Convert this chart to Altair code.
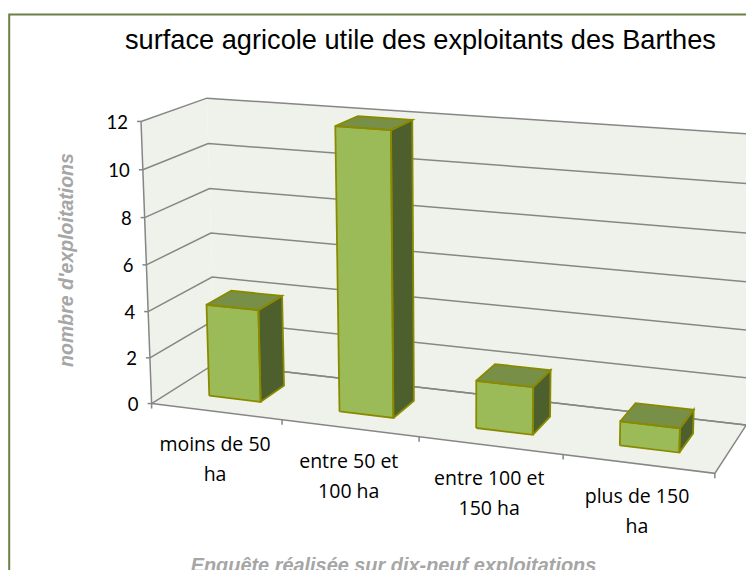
import numpy as np
import pandas as pd
import altair as alt

# ---- chart content ----
categories = [["moins de 50", "ha"], ["entre 50 et", "100 ha"], ["entre 100 et", "150 ha"], ["plus de 150", "ha"]]
values = [4, 12, 2, 1]
y_ticks = [0, 2, 4, 6, 8, 10, 12]
title_text = "surface agricole utile des exploitants des Barthes"
y_title = "nombre d'exploitations"
footer = "Enquête réalisée sur dix-neuf exploitations"

# ---- colours ----
WALL = "#eff2ea"
GRID = "#868686"
FRONT = "#9bbb59"
TOP = "#778f47"
SIDE = "#4e5f2e"
EDGE = "#8a8a00"
FRAME = "#6b8045"
GREY = "#a6a6a6"

# ---- camera: (category fraction, value fraction, depth fraction) -> page pixel ----
camera_model = [(0,0,0),(0,1,0),(0,0,1),(0,1,1),(1,0,1),(1,1,1),(1,0,0),(0,.5,0),(1,.5,1),(0,.5,1),
                (.075,0,.3),(.175,0,.3),(.175,1/3,.3),(.075,1/3,.3),(.175,1/3,.7),(.325,1,.3),(.425,1,.3),(.425,1,.7),
                (.575,1/6,.3),(.675,1/6,.3),(.675,1/6,.7),(.825,1/12,.3),(.925,1/12,.3),(.925,1/12,.7)]
camera_page = [(150.7,403),(141,121.5),(215.5,365),(205.5,98.5),(747,424),(756,133),(714.7,474),(145.7,264.3),(750.7,282.7),(210.7,233.3),
               (210,396),(261,400.7),(259,310),(206.7,304.3),(281.7,295.7),(336,126.7),(392.3,130.7),(413,120),
               (475.7,380),(532.3,387.3),(550.7,369.3),(620,422.7),(680,429),(694,410)]


def fit_camera(model, page):
    rows = []
    for (u, v, d), (x, y) in zip(model, page):
        p = [u, v, d, 1]
        rows.append(p + [0, 0, 0, 0] + [-x * c for c in p])
        rows.append([0, 0, 0, 0] + p + [-y * c for c in p])
    return np.linalg.svd(np.array(rows, float))[2][-1].reshape(3, 4)


CAM = fit_camera(camera_model, camera_page)


def project(u, v, d):
    h = CAM @ np.array([u, v, d, 1.0])
    return float(h[0] / h[2]), float(h[1] / h[2])


def area_rows(pid, fill, pts):
    out = []
    n = len(pts)
    for x in sorted({p[0] for p in pts}):
        ys = []
        for i in range(n):
            (x0, y0), (x1, y1) = pts[i], pts[(i + 1) % n]
            if min(x0, x1) <= x <= max(x0, x1):
                if x0 == x1:
                    ys += [y0, y1]
                else:
                    ys.append(y0 + (y1 - y0) * (x - x0) / (x1 - x0))
        out.append(dict(pid=pid, fill=fill, x=x, y=min(ys), y2=max(ys)))
    return out


def line_rows(pid, pts):
    return [dict(pid=pid, o=i, x=p[0], y=p[1]) for i, p in enumerate(pts)]


X = alt.X("x:Q", scale=alt.Scale(domain=[8, 746], nice=False, zero=False), axis=None)
Y = alt.Y("y:Q", scale=alt.Scale(domain=[570, 8], nice=False, zero=False), axis=None)


def fills(rows):
    return alt.Chart(pd.DataFrame(rows)).mark_area(strokeWidth=0, opacity=1).encode(
        x=X, y=Y, y2="y2:Q", detail="pid:N", color=alt.Color("fill:N", scale=None))


def lines(rows, color, width):
    return alt.Chart(pd.DataFrame(rows)).mark_line(color=color, strokeWidth=width, strokeJoin="miter").encode(
        x=X, y=Y, detail="pid:N", order="o:Q")


def texts(rows, **kw):
    return alt.Chart(pd.DataFrame(rows)).mark_text(**kw).encode(x=X, y=Y, text="t:N")


# walls and floor
wall_rows = []
wall_rows += area_rows("left", WALL, [project(0, 0, 0), project(0, 1, 0), project(0, 1, 1), project(0, 0, 1)])
wall_rows += area_rows("back", WALL, [project(0, 0, 1), project(0, 1, 1), project(1, 1, 1), project(1, 0, 1)])
wall_rows += area_rows("floor", WALL, [project(0, 0, 0), project(0, 0, 1), project(1, 0, 1), project(1, 0, 0)])

# gridlines, axis lines, ticks
grid_rows = []
top_tick = max(y_ticks)
for t in y_ticks:
    f = t / top_tick
    grid_rows += line_rows(f"g{t}", [project(0, f, 0), project(0, f, 1), project(1, f, 1)])
    a = project(0, f, 0)
    grid_rows += line_rows(f"yt{t}", [a, (a[0] - 4, a[1])])
grid_rows += line_rows("yaxis", [project(0, 0, 0), project(0, 1, 0)])
grid_rows += line_rows("xaxis", [project(0, 0, 1), project(1, 0, 1), project(1, 0, 0), project(0, 0, 0)])
n = len(values)
for i in range(n + 1):
    a = project(i / n, 0, 0)
    grid_rows += line_rows(f"xt{i}", [a, (a[0], a[1] + 5)])

# bars
bar_fill, bar_line = [], []
for i, val in enumerate(values):
    u0, u1 = (i + .3) / n, (i + .7) / n
    d0, d1 = .3, .7
    v = val / top_tick
    front = [project(u0, 0, d0), project(u0, v, d0), project(u1, v, d0), project(u1, 0, d0)]
    side = [project(u1, 0, d0), project(u1, v, d0), project(u1, v, d1), project(u1, 0, d1)]
    top = [project(u0, v, d0), project(u0, v, d1), project(u1, v, d1), project(u1, v, d0)]
    for name, col, poly in (("f", FRONT, front), ("s", SIDE, side), ("t", TOP, top)):
        bar_fill += area_rows(f"{name}{i}", col, poly)
        bar_line += line_rows(f"{name}{i}", poly + [poly[0]])

# frame of the chart
frame_rows = line_rows("frame", [(9.2, 590), (9.2, 14.5), (780, 14.5)])

# labels
ytick_rows = []
for t in y_ticks:
    a = project(0, t / top_tick, 0)
    ytick_rows.append(dict(x=a[0] - 13, y=a[1] + 1.5, t=str(t)))
cat_rows = []
for i, pair in enumerate(categories):
    a = project((i + .5) / n, 0, 0)
    for k, s in enumerate(pair):
        cat_rows.append(dict(x=a[0] - 1, y=a[1] + 33.5 + 30 * k, t=s))
ytitle_rows = [dict(x=67, y=260, t=y_title)]
foot_rows = [dict(x=393.5, y=572, t=footer)]
title_rows = [dict(x=125, y=48.5, t=title_text)]

chart = alt.layer(
    lines(frame_rows, FRAME, 2),
    fills(wall_rows),
    lines(grid_rows, GRID, 1.5),
    fills(bar_fill),
    lines(bar_line, EDGE, 1.8),
    texts(title_rows, font="Liberation Sans", fontSize=27.2, align="left", baseline="alphabetic", color="#000000"),
    texts(ytick_rows, font="Lato", fontSize=18.5, align="right", baseline="middle", color="#000000"),
    texts(cat_rows, font="Open Sans", fontSize=19.5, align="center", baseline="middle", color="#000000"),
    texts(ytitle_rows, font="Liberation Sans", fontSize=19.5, fontWeight="bold", fontStyle="italic",
          angle=270, align="center", baseline="middle", color=GREY),
    texts(foot_rows, font="Liberation Sans", fontSize=19.9, fontWeight="bold", fontStyle="italic",
          align="center", baseline="alphabetic", color=GREY),
).properties(
    width=738, height=562, padding=0, background="white",
    autosize=alt.AutoSizeParams(type="none"),
).configure_view(stroke=None)

chart.save("out.html", embed_options={"renderer": "svg", "actions": False})
